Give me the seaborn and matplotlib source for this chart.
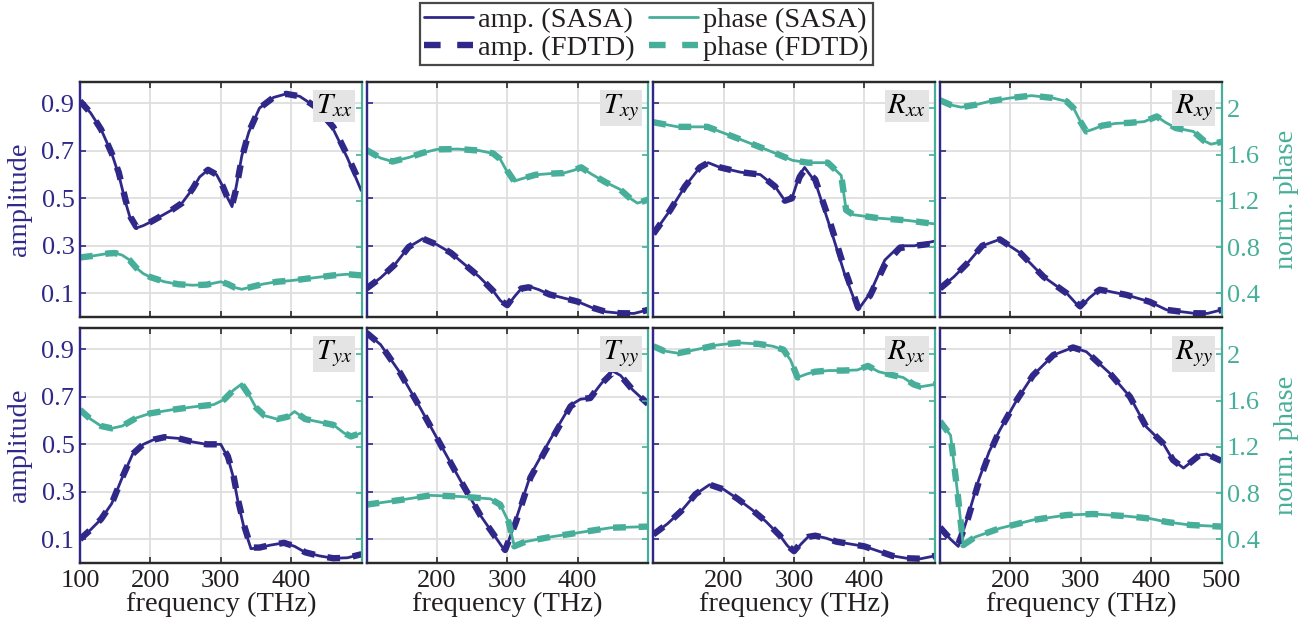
import matplotlib
matplotlib.use("Agg")
import matplotlib.pyplot as plt
import seaborn as sns
from matplotlib.lines import Line2D
from matplotlib.ticker import FixedLocator, FuncFormatter

# ---------------- data: amplitude / normalized phase vs frequency (THz) ----------------
# T_xx
txx_amp_f = [100, 115, 130, 145, 155, 165, 172, 180, 190, 200, 215, 230, 245, 260, 270, 282, 294, 303, 310, 316, 322, 330, 340, 355, 375, 393, 412, 435, 460, 480, 500]
txx_amp_sasa = [0.91, 0.86, 0.79, 0.69, 0.60, 0.48, 0.41, 0.375, 0.385, 0.40, 0.425, 0.45, 0.48, 0.54, 0.59, 0.62, 0.60, 0.55, 0.50, 0.465, 0.55, 0.68, 0.78, 0.88, 0.925, 0.94, 0.93, 0.885, 0.79, 0.67, 0.53]
txx_amp_fdtd = [0.91, 0.86, 0.79, 0.69, 0.61, 0.49, 0.42, 0.38, 0.385, 0.40, 0.425, 0.45, 0.48, 0.54, 0.59, 0.62, 0.60, 0.55, 0.50, 0.47, 0.54, 0.67, 0.78, 0.88, 0.925, 0.94, 0.93, 0.885, 0.80, 0.68, 0.55]
txx_ph_f = [100, 120, 140, 150, 160, 170, 180, 190, 200, 220, 240, 260, 280, 300, 310, 320, 330, 340, 360, 380, 400, 420, 440, 460, 480, 500]
txx_ph_sasa = [0.71, 0.725, 0.745, 0.748, 0.73, 0.69, 0.62, 0.57, 0.54, 0.50, 0.478, 0.47, 0.475, 0.50, 0.48, 0.45, 0.435, 0.45, 0.48, 0.50, 0.51, 0.525, 0.54, 0.555, 0.565, 0.555]
txx_ph_fdtd = [0.71, 0.725, 0.745, 0.748, 0.73, 0.69, 0.62, 0.57, 0.54, 0.50, 0.478, 0.47, 0.475, 0.50, 0.48, 0.45, 0.44, 0.45, 0.48, 0.50, 0.51, 0.525, 0.54, 0.555, 0.565, 0.555]

# T_xy
txy_amp_f = [100, 120, 140, 160, 180, 200, 220, 240, 260, 280, 290, 300, 310, 320, 330, 345, 360, 380, 400, 420, 440, 460, 480, 500]
txy_amp_sasa = [0.12, 0.165, 0.22, 0.295, 0.33, 0.305, 0.27, 0.22, 0.17, 0.11, 0.07, 0.045, 0.085, 0.12, 0.13, 0.115, 0.095, 0.08, 0.065, 0.04, 0.022, 0.016, 0.015, 0.03]
txy_amp_fdtd = [0.12, 0.165, 0.22, 0.295, 0.33, 0.305, 0.27, 0.22, 0.17, 0.11, 0.07, 0.05, 0.09, 0.12, 0.125, 0.115, 0.095, 0.08, 0.065, 0.04, 0.022, 0.016, 0.015, 0.03]
txy_ph_f = [100, 120, 137, 160, 180, 200, 230, 260, 280, 290, 300, 310, 320, 340, 360, 380, 395, 405, 420, 440, 460, 475, 485, 500]
txy_ph_sasa = [1.64, 1.57, 1.54, 1.575, 1.615, 1.645, 1.648, 1.635, 1.61, 1.56, 1.45, 1.37, 1.39, 1.425, 1.435, 1.44, 1.465, 1.49, 1.43, 1.36, 1.30, 1.22, 1.18, 1.21]
txy_ph_fdtd = [1.64, 1.57, 1.54, 1.575, 1.615, 1.645, 1.648, 1.635, 1.61, 1.56, 1.46, 1.37, 1.39, 1.425, 1.435, 1.44, 1.465, 1.49, 1.43, 1.36, 1.30, 1.22, 1.18, 1.21]

# R_xx
rxx_amp_f = [100, 124, 145, 166, 178, 195, 224, 252, 273, 287, 297, 308, 315, 330, 351, 372, 391, 408, 429, 450, 471, 500]
rxx_amp_sasa = [0.35, 0.45, 0.55, 0.63, 0.65, 0.63, 0.61, 0.60, 0.55, 0.49, 0.50, 0.60, 0.63, 0.57, 0.38, 0.18, 0.03, 0.10, 0.24, 0.30, 0.30, 0.32]
rxx_amp_fdtd = [0.35, 0.45, 0.55, 0.63, 0.65, 0.63, 0.61, 0.60, 0.55, 0.49, 0.50, 0.59, 0.62, 0.58, 0.40, 0.20, 0.04, 0.09, 0.22, 0.29, 0.30, 0.31]
rxx_ph_f = [100, 135, 177, 220, 262, 298, 320, 348, 367, 374, 384, 420, 462, 500]
rxx_ph_sasa = [1.88, 1.84, 1.84, 1.74, 1.64, 1.55, 1.53, 1.53, 1.42, 1.12, 1.08, 1.05, 1.03, 1.00]
rxx_ph_fdtd = [1.88, 1.84, 1.84, 1.74, 1.64, 1.55, 1.53, 1.53, 1.42, 1.12, 1.08, 1.05, 1.03, 1.00]

# R_xy
rxy_amp_f = [100, 120, 140, 160, 185, 214, 247, 280, 299, 312, 327, 345, 365, 398, 422, 460, 480, 500]
rxy_amp_sasa = [0.12, 0.17, 0.23, 0.30, 0.327, 0.27, 0.17, 0.10, 0.039, 0.08, 0.117, 0.105, 0.093, 0.064, 0.03, 0.016, 0.015, 0.03]
rxy_amp_fdtd = [0.12, 0.17, 0.23, 0.30, 0.327, 0.27, 0.17, 0.10, 0.045, 0.085, 0.115, 0.105, 0.093, 0.064, 0.03, 0.016, 0.015, 0.03]
rxy_ph_f = [100, 115, 130, 150, 170, 200, 230, 260, 280, 290, 300, 308, 318, 330, 350, 370, 390, 408, 420, 435, 460, 475, 485, 500]
rxy_ph_sasa = [2.07, 2.03, 2.01, 2.03, 2.06, 2.09, 2.11, 2.09, 2.06, 2.0, 1.88, 1.80, 1.82, 1.85, 1.87, 1.875, 1.885, 1.93, 1.88, 1.83, 1.80, 1.72, 1.69, 1.71]
rxy_ph_fdtd = [2.07, 2.03, 2.01, 2.03, 2.06, 2.09, 2.11, 2.09, 2.06, 2.0, 1.88, 1.80, 1.82, 1.85, 1.87, 1.875, 1.885, 1.93, 1.88, 1.83, 1.80, 1.72, 1.69, 1.71]

# T_yx
tyx_amp_f = [100, 115, 130, 145, 160, 175, 190, 205, 220, 240, 260, 280, 300, 310, 318, 325, 333, 343, 355, 370, 390, 405, 420, 440, 460, 480, 500]
tyx_amp_sasa = [0.10, 0.14, 0.185, 0.25, 0.36, 0.46, 0.50, 0.52, 0.53, 0.525, 0.51, 0.50, 0.50, 0.445, 0.36, 0.25, 0.15, 0.06, 0.065, 0.075, 0.085, 0.07, 0.045, 0.03, 0.02, 0.022, 0.037]
tyx_amp_fdtd = [0.10, 0.14, 0.185, 0.25, 0.36, 0.46, 0.50, 0.52, 0.53, 0.525, 0.51, 0.50, 0.50, 0.45, 0.37, 0.26, 0.16, 0.065, 0.065, 0.075, 0.085, 0.07, 0.045, 0.03, 0.02, 0.022, 0.037]
tyx_ph_f = [100, 115, 130, 145, 160, 180, 200, 230, 260, 290, 305, 318, 330, 340, 350, 362, 380, 395, 405, 420, 440, 460, 475, 485, 500]
tyx_ph_sasa = [1.52, 1.44, 1.38, 1.36, 1.38, 1.45, 1.49, 1.52, 1.545, 1.565, 1.61, 1.69, 1.745, 1.65, 1.54, 1.47, 1.44, 1.46, 1.505, 1.44, 1.415, 1.39, 1.32, 1.29, 1.32]
tyx_ph_fdtd = [1.52, 1.44, 1.38, 1.36, 1.38, 1.45, 1.49, 1.52, 1.545, 1.565, 1.61, 1.69, 1.74, 1.65, 1.54, 1.47, 1.44, 1.46, 1.505, 1.44, 1.415, 1.39, 1.32, 1.29, 1.32]

# T_yy
tyy_amp_f = [100, 120, 148, 177, 205, 233, 262, 283, 297, 312, 333, 361, 390, 404, 418, 432, 449, 461, 478, 500]
tyy_amp_sasa = [0.97, 0.92, 0.80, 0.65, 0.50, 0.35, 0.20, 0.11, 0.05, 0.18, 0.37, 0.52, 0.665, 0.69, 0.695, 0.75, 0.81, 0.79, 0.73, 0.67]
tyy_amp_fdtd = [0.97, 0.92, 0.80, 0.65, 0.50, 0.35, 0.20, 0.11, 0.055, 0.17, 0.36, 0.51, 0.66, 0.69, 0.695, 0.75, 0.80, 0.79, 0.73, 0.67]
tyy_ph_f = [100, 148, 191, 233, 276, 290, 302, 310, 326, 361, 404, 447, 500]
tyy_ph_sasa = [0.70, 0.74, 0.78, 0.77, 0.75, 0.70, 0.55, 0.34, 0.38, 0.42, 0.46, 0.50, 0.51]
tyy_ph_fdtd = [0.70, 0.74, 0.78, 0.77, 0.75, 0.70, 0.55, 0.34, 0.38, 0.42, 0.46, 0.50, 0.51]

# R_yx
ryx_amp_f = [100, 120, 140, 160, 180, 200, 220, 240, 260, 280, 290, 300, 310, 320, 330, 345, 360, 380, 400, 420, 440, 460, 480, 500]
ryx_amp_sasa = [0.12, 0.165, 0.22, 0.29, 0.33, 0.31, 0.27, 0.225, 0.175, 0.115, 0.075, 0.045, 0.08, 0.11, 0.115, 0.105, 0.09, 0.08, 0.07, 0.05, 0.03, 0.02, 0.018, 0.03]
ryx_amp_fdtd = [0.12, 0.165, 0.22, 0.29, 0.33, 0.31, 0.27, 0.225, 0.175, 0.115, 0.075, 0.05, 0.085, 0.11, 0.115, 0.105, 0.09, 0.08, 0.07, 0.05, 0.03, 0.02, 0.018, 0.03]
ryx_ph_f = [100, 115, 135, 160, 190, 220, 250, 270, 285, 295, 305, 318, 330, 350, 370, 390, 405, 420, 440, 455, 470, 480, 490, 500]
ryx_ph_sasa = [2.07, 2.03, 2.01, 2.04, 2.08, 2.10, 2.09, 2.07, 2.04, 1.95, 1.80, 1.83, 1.85, 1.86, 1.86, 1.865, 1.90, 1.85, 1.82, 1.80, 1.74, 1.72, 1.73, 1.74]
ryx_ph_fdtd = [2.07, 2.03, 2.01, 2.04, 2.08, 2.10, 2.09, 2.07, 2.04, 1.95, 1.80, 1.83, 1.85, 1.86, 1.86, 1.865, 1.90, 1.85, 1.82, 1.80, 1.74, 1.72, 1.73, 1.74]

# R_yy
ryy_amp_f = [100, 115, 126, 140, 155, 170, 185, 209, 232, 261, 289, 308, 341, 370, 393, 417, 431, 446, 469, 479, 500]
ryy_amp_sasa = [0.15, 0.10, 0.07, 0.20, 0.35, 0.47, 0.56, 0.686, 0.79, 0.876, 0.908, 0.89, 0.80, 0.70, 0.574, 0.504, 0.434, 0.40, 0.455, 0.459, 0.43]
ryy_amp_fdtd = [0.15, 0.10, 0.08, 0.19, 0.34, 0.46, 0.56, 0.686, 0.79, 0.876, 0.908, 0.89, 0.80, 0.70, 0.574, 0.504, 0.434, 0.40, 0.455, 0.459, 0.43]
ryy_ph_f = [100, 115, 125, 133, 150, 185, 232, 280, 318, 365, 398, 422, 455, 500]
ryy_ph_sasa = [1.42, 1.30, 0.80, 0.35, 0.42, 0.495, 0.567, 0.61, 0.619, 0.60, 0.58, 0.55, 0.524, 0.51]
ryy_ph_fdtd = [1.42, 1.30, 0.80, 0.35, 0.42, 0.495, 0.567, 0.61, 0.619, 0.60, 0.58, 0.55, 0.524, 0.51]

panel_names = [r"$T_{xx}$", r"$T_{xy}$", r"$R_{xx}$", r"$R_{xy}$",
               r"$T_{yx}$", r"$T_{yy}$", r"$R_{yx}$", r"$R_{yy}$"]
panel_series = [
    (txx_amp_f, txx_amp_sasa, txx_amp_fdtd, txx_ph_f, txx_ph_sasa, txx_ph_fdtd),
    (txy_amp_f, txy_amp_sasa, txy_amp_fdtd, txy_ph_f, txy_ph_sasa, txy_ph_fdtd),
    (rxx_amp_f, rxx_amp_sasa, rxx_amp_fdtd, rxx_ph_f, rxx_ph_sasa, rxx_ph_fdtd),
    (rxy_amp_f, rxy_amp_sasa, rxy_amp_fdtd, rxy_ph_f, rxy_ph_sasa, rxy_ph_fdtd),
    (tyx_amp_f, tyx_amp_sasa, tyx_amp_fdtd, tyx_ph_f, tyx_ph_sasa, tyx_ph_fdtd),
    (tyy_amp_f, tyy_amp_sasa, tyy_amp_fdtd, tyy_ph_f, tyy_ph_sasa, tyy_ph_fdtd),
    (ryx_amp_f, ryx_amp_sasa, ryx_amp_fdtd, ryx_ph_f, ryx_ph_sasa, ryx_ph_fdtd),
    (ryy_amp_f, ryy_amp_sasa, ryy_amp_fdtd, ryy_ph_f, ryy_ph_sasa, ryy_ph_fdtd),
]

freq_ticks = [100, 200, 300, 400, 500]
amp_ticks = [0.1, 0.3, 0.5, 0.7, 0.9]
phase_ticks = [0.4, 0.8, 1.2, 1.6, 2.0]
legend_labels = ["amp. (SASA)", "amp. (FDTD)", "phase (SASA)", "phase (FDTD)"]

# ---------------- style ----------------
sns.set_theme(style="white")
plt.rcParams["font.family"] = ["Liberation Serif", "DejaVu Serif"]
plt.rcParams["mathtext.fontset"] = "stix"

AMP_C = "#302889"
PH_C = "#47ae99"
TXT_C = "#231f20"
SPINE_C = "#2a2a2a"
GRID_C = "#dedede"
SOLID_LW = 2.0
DASH_LW = 4.6
DASH = (0, (2.0, 2.0))
TICK_FS = 19
LABEL_FS = 20.5

W, H = 1304.0, 635.0
col_x = [80.0, 366.5, 653.3, 940.0]
ax_w = 281.5
row_y = [(82.0, 317.0), (328.0, 563.0)]

fig = plt.figure(figsize=(W / 100, H / 100), dpi=100)
fig.patch.set_facecolor("white")

for k, (name, series) in enumerate(zip(panel_names, panel_series)):
    r, c = divmod(k, 4)
    top, bot = row_y[r]
    rect = [col_x[c] / W, 1 - bot / H, ax_w / W, (bot - top) / H]
    ax = fig.add_axes(rect)
    ax2 = ax.twinx()
    af, a_s, a_f, pf, p_s, p_f = series

    sns.lineplot(x=af, y=a_f, ax=ax, color=AMP_C, lw=DASH_LW, linestyle=DASH,
                 estimator=None, sort=False, legend=False)
    sns.lineplot(x=af, y=a_s, ax=ax, color=AMP_C, lw=SOLID_LW,
                 estimator=None, sort=False, legend=False)
    sns.lineplot(x=pf, y=p_f, ax=ax2, color=PH_C, lw=DASH_LW, linestyle=DASH,
                 estimator=None, sort=False, legend=False)
    sns.lineplot(x=pf, y=p_s, ax=ax2, color=PH_C, lw=SOLID_LW,
                 estimator=None, sort=False, legend=False)
    for ln in ax.lines + ax2.lines:
        ln.set_solid_capstyle("butt")
        ln.set_dash_capstyle("butt")

    ax.set_xlim(100, 500)
    ax.set_ylim(0, 0.99)
    ax2.set_ylim(0.195, 2.228)

    # grid
    ax.xaxis.set_major_locator(FixedLocator(freq_ticks))
    ax.yaxis.set_major_locator(FixedLocator(amp_ticks))
    ax2.yaxis.set_major_locator(FixedLocator(phase_ticks))
    ax.grid(True, color=GRID_C, lw=1.3)
    ax.set_axisbelow(True)
    ax2.grid(False)

    # spines
    for a in (ax, ax2):
        for s in a.spines.values():
            s.set_linewidth(1.6)
        a.spines["top"].set_color(SPINE_C)
        a.spines["bottom"].set_color(SPINE_C)
    ax.spines["left"].set_color(AMP_C)
    ax2.spines["left"].set_color(AMP_C)
    ax.spines["right"].set_visible(False)
    ax2.spines["right"].set_color(PH_C)

    ax.tick_params(axis="y", which="both", direction="in", length=4, width=1.2,
                   colors=AMP_C, left=True, right=False, labelsize=TICK_FS, pad=4)
    ax.tick_params(axis="x", which="both", direction="in", length=4, width=1.2,
                   color=SPINE_C, labelcolor=TXT_C, top=True, bottom=True,
                   labelsize=TICK_FS, pad=5)
    ax2.tick_params(axis="y", which="both", direction="in", length=4, width=1.2,
                    colors=PH_C, left=False, right=True, labelsize=TICK_FS, pad=4)

    ax.yaxis.set_major_formatter(FuncFormatter(lambda v, p: f"{v:g}"))
    ax2.yaxis.set_major_formatter(FuncFormatter(lambda v, p: f"{v:g}"))

    first, last = (c == 0), (c == 3)

    def xfmt(v, p, first=first, last=last):
        if v == 100 and not first:
            return ""
        if v == 500 and not last:
            return ""
        return f"{v:g}"

    ax.xaxis.set_major_formatter(FuncFormatter(xfmt))
    if r == 0:
        ax.tick_params(axis="x", labelbottom=False)
        ax.set_xlabel("")
    else:
        ax.set_xlabel("frequency (THz)", fontsize=LABEL_FS, color=TXT_C, labelpad=0)
    if c == 0:
        ax.set_ylabel("amplitude", fontsize=LABEL_FS, color=AMP_C, labelpad=7)
    else:
        ax.tick_params(axis="y", labelleft=False)
        ax.set_ylabel("")
    if c == 3:
        ax2.set_ylabel("norm. phase", fontsize=LABEL_FS, color=PH_C, labelpad=10,
                       rotation=90)
    else:
        ax2.tick_params(axis="y", labelright=False)
        ax2.set_ylabel("")

    ax2.text(0.968, 0.955, name, transform=ax2.transAxes, ha="right", va="top",
             fontsize=21, color="black", zorder=10,
             bbox=dict(boxstyle="square,pad=0.1", facecolor="#e4e4e4", edgecolor="none"))

handles = [
    Line2D([], [], color=AMP_C, lw=SOLID_LW),
    Line2D([], [], color=AMP_C, lw=DASH_LW, linestyle=(0, (2.6, 2.6)), dash_capstyle="butt"),
    Line2D([], [], color=PH_C, lw=SOLID_LW),
    Line2D([], [], color=PH_C, lw=DASH_LW, linestyle=(0, (2.6, 2.6)), dash_capstyle="butt"),
]
leg = fig.legend(handles, legend_labels, loc="upper center", ncol=2,
                 bbox_to_anchor=(646.5 / W, 1 - 3 / H), fontsize=20.5,
                 frameon=True, fancybox=False, handlelength=1.7,
                 handletextpad=0.2, columnspacing=0.5, labelspacing=0.05,
                 borderpad=0.15, borderaxespad=0.0)
leg.get_frame().set_edgecolor("#1a1a1a")
leg.get_frame().set_linewidth(1.6)
for t in leg.get_texts():
    t.set_color(TXT_C)

fig.savefig("out.png", dpi=100, facecolor="white")
